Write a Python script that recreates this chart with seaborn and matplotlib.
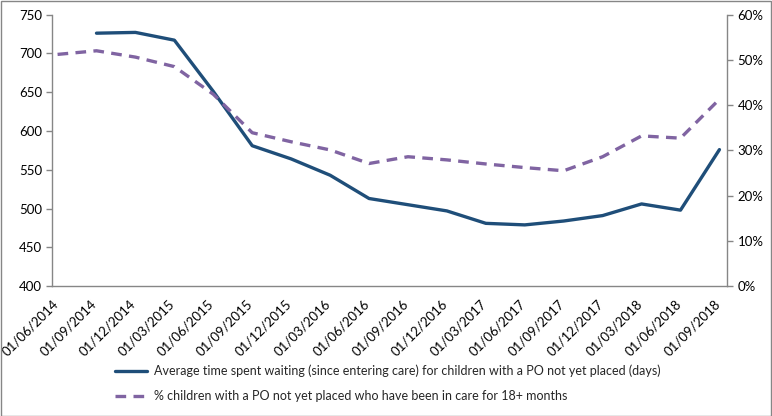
import matplotlib
matplotlib.use("Agg")
import matplotlib.pyplot as plt
import numpy as np
import pandas as pd
import seaborn as sns
from matplotlib.ticker import PercentFormatter

dates = [
    "01/06/2014", "01/09/2014", "01/12/2014", "01/03/2015", "01/06/2015",
    "01/09/2015", "01/12/2015", "01/03/2016", "01/06/2016", "01/09/2016",
    "01/12/2016", "01/03/2017", "01/06/2017", "01/09/2017", "01/12/2017",
    "01/03/2018", "01/06/2018", "01/09/2018",
]
avg_wait_days = [np.nan, 726, 727, 717, 651, 581, 564, 543, 513, 505,
                 497, 481, 479, 484, 491, 506, 498, 576]
pct_18_months = [51.2, 52.0, 50.6, 48.5, 42.4, 33.9, 31.9, 30.1, 27.1, 28.6,
                 27.9, 27.0, 26.2, 25.5, 28.6, 33.2, 32.7, 41.3]

label_wait = "Average time spent waiting (since entering care) for children with a PO not yet placed (days)"
label_pct = "% children with a PO not yet placed who have been in care for 18+ months"

NAVY = "#1f4e79"
PURPLE = "#8064a2"
GREY = "#868686"

sns.set_theme(style="white")
plt.rcParams["font.family"] = ["Lato", "DejaVu Sans"]

df = pd.DataFrame({"pos": np.arange(len(dates)), "wait": avg_wait_days, "pct": pct_18_months})

fig = plt.figure(figsize=(7.72, 4.16), dpi=100)
ax = fig.add_axes([0.067, 0.312, 0.875, 0.653])
ax2 = ax.twinx()

sns.lineplot(data=df, x="pos", y="wait", ax=ax, color=NAVY, linewidth=2.4, label=label_wait, legend=False)
sns.lineplot(data=df, x="pos", y="pct", ax=ax2, color=PURPLE, linewidth=2.4,
             linestyle=(0, (3.2, 2.2)), label=label_pct, legend=False)

ax.set_ylim(400, 750)
ax.set_yticks(range(400, 751, 50))
ax2.set_ylim(0, 60)
ax2.set_yticks(range(0, 61, 10))
ax2.yaxis.set_major_formatter(PercentFormatter(decimals=0))
ax.set_xlim(-0.15, 17.2)
ax.set_xticks(df["pos"] - 0.15)
ax.set_xticklabels(dates, rotation=45, ha="right", rotation_mode="anchor")

for a in (ax, ax2):
    a.set_xlabel("")
    a.set_ylabel("")
    a.spines["top"].set_visible(False)
    for s in ("left", "right", "bottom"):
        a.spines[s].set_color(GREY)
        a.spines[s].set_linewidth(1.0)
    a.tick_params(axis="both", length=4, width=1, color=GREY, labelsize=9.5, colors="black")
    a.grid(False)
ax.tick_params(axis="y", pad=3)
ax.tick_params(axis="x", pad=4)
ax.spines["right"].set_visible(False)
ax2.spines["left"].set_visible(False)
ax2.spines["bottom"].set_visible(False)

h1, l1 = ax.get_legend_handles_labels()
h2, l2 = ax2.get_legend_handles_labels()
fig.legend(h1 + h2, l1 + l2, loc="upper center", bbox_to_anchor=(0.502, 0.15),
           ncol=1, frameon=False, fontsize=9, handlelength=2.6, labelspacing=1.0,
           handletextpad=0.5)

fig.patches.append(plt.Rectangle((0.001, 0.001), 0.998, 0.997, transform=fig.transFigure,
                                 fill=False, edgecolor=GREY, linewidth=1))

fig.savefig("out.png", dpi=100)
